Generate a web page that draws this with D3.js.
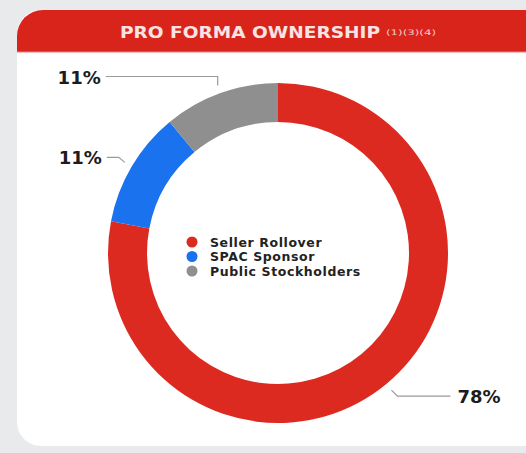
<!DOCTYPE html>
<html><head><meta charset="utf-8">
<script src="https://cdn.jsdelivr.net/npm/d3@7"></script>
<style>
html,body{margin:0;padding:0;background:#e9eaec;}
svg{display:block;}
</style></head>
<body>
<svg id="chart" width="526" height="453"></svg>
<script>
const title = "PRO FORMA OWNERSHIP";
const titleNotes = "(1)(3)(4)";
const categories = ["Seller Rollover", "SPAC Sponsor", "Public Stockholders"];
const values = [78, 11, 11];
const labels = ["78%", "11%", "11%"];
const colors = ["#dc2a21", "#1a72ee", "#8f8f8f"];

const svg = d3.select("#chart");

// card
svg.append("rect").attr("x",17).attr("y",10).attr("width",560).attr("height",436).attr("rx",24).attr("fill","#ffffff");
// header
const hdr = d3.path();
hdr.moveTo(17,52); hdr.lineTo(17,36); hdr.arcTo(17,10,43,10,26); hdr.lineTo(600,10); hdr.lineTo(600,52); hdr.closePath();
svg.append("path").attr("d",hdr.toString()).attr("fill","#d9241c");
svg.append("rect").attr("x",17).attr("y",51).attr("width",560).attr("height",2).attr("fill","#e8827d").attr("opacity",0.5);

svg.append("text").attr("x",120).attr("y",38).attr("fill","#f7e4e2")
  .style("font-family","'DejaVu Sans',sans-serif").style("font-weight","bold").style("font-size","16px")
  .text(title).attr("textLength",260).attr("lengthAdjust","spacingAndGlyphs");
svg.append("text").attr("x",386).attr("y",35).attr("fill","#f2c9c6")
  .style("font-family","'DejaVu Sans',sans-serif").style("font-size","7.5px").text(titleNotes)
  .attr("textLength",50).attr("lengthAdjust","spacingAndGlyphs");

const cx = 278, cy = 253, rOut = 170, rIn = 131;
const g = svg.append("g").attr("transform",`translate(${cx},${cy})`);
const pie = d3.pie().sort(null).value(d=>d);
const arcs = pie(values);
const arc = d3.arc().innerRadius(rIn).outerRadius(rOut);
g.selectAll("path.slice").data(arcs).enter().append("path").attr("class","slice")
  .attr("d",arc).attr("fill",(d,i)=>colors[i]);

// leader lines and labels
const lineArc = d3.arc().innerRadius(178).outerRadius(178);
const labelCfg = [
  {elbow:(p)=>[p[0]+6, p[1]+6], end:(e)=>[e[0]+53, e[1]], anchor:"start", dx:7},
  {elbow:(p)=>[p[0]-6, p[1]-5], end:(e)=>[e[0]-12, e[1]], anchor:"end", dx:-5},
  {elbow:(p)=>[p[0], p[1]-9], end:(e)=>[e[0]-112, e[1]], anchor:"end", dx:-5}
];
arcs.forEach((d,i)=>{
  const c = lineArc.centroid(d);
  const p = [c[0]+cx, c[1]+cy];
  const e = labelCfg[i].elbow(p);
  const f = labelCfg[i].end(e);
  svg.append("polyline").attr("points",[p,e,f].map(q=>q.join(",")).join(" "))
    .attr("fill","none").attr("stroke","#9a9a9a").attr("stroke-width",1.2);
  svg.append("text").attr("x",f[0]+labelCfg[i].dx).attr("y",f[1]+7)
    .attr("text-anchor",labelCfg[i].anchor).attr("fill","#1c1c1c")
    .style("font-family","'DejaVu Sans',sans-serif").style("font-weight","bold").style("font-size","18px")
    .text(labels[i]);
});

// legend
const lg = svg.append("g").attr("transform","translate(192,242)");
categories.forEach((c,i)=>{
  const row = lg.append("g").attr("transform",`translate(0,${i*14.5})`);
  row.append("circle").attr("r",5.5).attr("fill",colors[i]);
  row.append("text").attr("x",18).attr("y",4.5).attr("fill","#222")
    .style("font-family","'DejaVu Sans',sans-serif").style("font-weight","bold").style("font-size","12.5px")
    .style("letter-spacing","0.6px")
    .text(c);
});
</script>
</body></html>
